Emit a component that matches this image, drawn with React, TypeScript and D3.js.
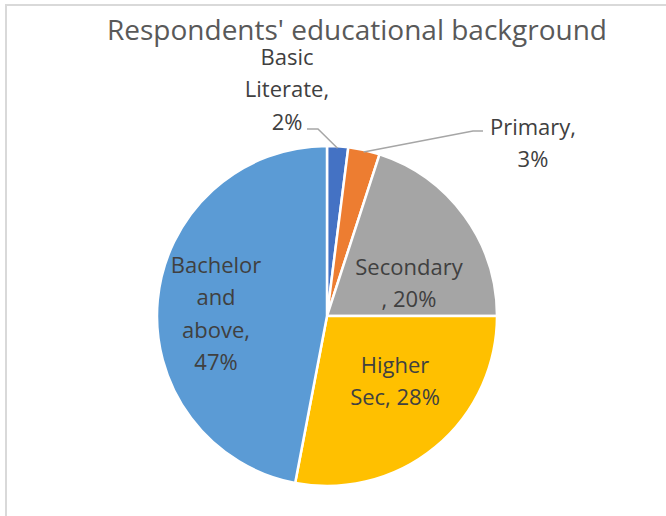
import React from "react";
import * as d3 from "d3";

const categories = ["Basic Literate", "Primary", "Secondary", "Higher Sec", "Bachelor and above"];
const values = [2, 3, 20, 28, 47];
const colors = ["#4472C4", "#ED7D31", "#A5A5A5", "#FFC000", "#5B9BD5"];
const labelLines = [
  ["Basic", "Literate,", "2%"],
  ["Primary,", "3%"],
  ["Secondary", ", 20%"],
  ["Higher", "Sec, 28%"],
  ["Bachelor", "and", "above,", "47%"],
];
const title = "Respondents' educational background";

const W = 666;
const H = 516;
const cx = 327;
const cy = 316;
const R = 170;
const lineH = 32.4;
const FONT = "'Open Sans', sans-serif";
// first-line baseline of each label block, relative to the pie centre (layout)
const labelOffsets: [number, number][] = [
  [-40, -251],
  [206, -181],
  [82, -41],
  [68, 57],
  [-111, -43],
];
// leader line elbows (layout), relative to pie centre
const leaderStart: ([number, number][] | null)[] = [
  [[-20, -187], [-9, -187]],
  [[156, -185], [146, -185]],
  null,
  null,
  null,
];

export default function App() {
  const pie = d3.pie<number>().sort(null).value((d) => d);
  const arcs = pie(values);
  const arc = d3.arc<d3.PieArcDatum<number>>().innerRadius(0).outerRadius(R);
  const edge = d3.arc<d3.PieArcDatum<number>>().innerRadius(R - 2).outerRadius(R - 2);

  return (
    <svg width={W} height={H} style={{ position: "absolute", left: 0, top: 0, background: "#fff" }}>
      <rect x={6} y={5} width={W + 10} height={H + 10} fill="#fff" stroke="#d9d9d9" strokeWidth={2} />
      <text x={357} y={40} textAnchor="middle" fontFamily={FONT} fontSize={28} fill="#595959">
        {title}
      </text>
      <g transform={`translate(${cx},${cy})`}>
        {arcs.map((a, i) => (
          <path key={categories[i]} d={arc(a) || ""} fill={colors[i]} stroke="#fff" strokeWidth={2.5} />
        ))}
        {arcs.map((a, i) => {
          const pts = leaderStart[i];
          if (!pts) return null;
          const end = edge.centroid(a);
          const all = [...pts, end];
          return (
            <path
              key={"l" + i}
              d={d3.line()(all as [number, number][]) || ""}
              fill="none"
              stroke="#a6a6a6"
              strokeWidth={1.5}
            />
          );
        })}
        {labelLines.map((lines, i) => {
          const [ox, oy] = labelOffsets[i];
          return (
            <text
              key={"t" + i}
              textAnchor="middle"
              fontFamily={FONT}
              fontSize={22}
              fill="#404040"
            >
              {lines.map((ln, j) => (
                <tspan key={j} x={ox} y={oy + j * lineH}>
                  {ln}
                </tspan>
              ))}
            </text>
          );
        })}
      </g>
    </svg>
  );
}
